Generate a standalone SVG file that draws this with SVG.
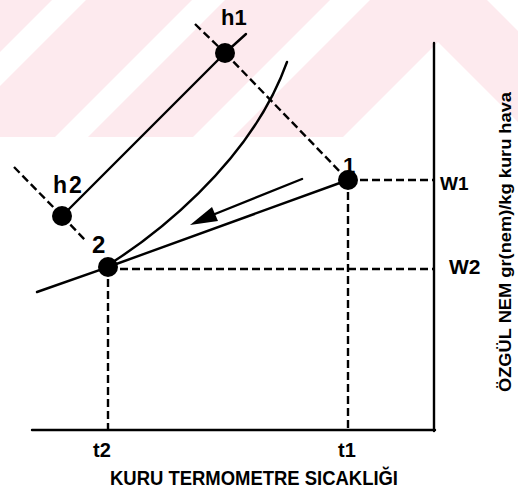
<svg xmlns="http://www.w3.org/2000/svg" width="518" height="495" viewBox="0 0 518 495">
<defs>
<style>
.wm{fill:#fdeaee;stroke:none}
.ln{fill:none;stroke:#000;stroke-width:2.4;stroke-linecap:round}
.ds{fill:none;stroke:#000;stroke-width:2.4;stroke-dasharray:8,4}
.dot{fill:#000}
.lb{font-family:"Liberation Sans",Arial,sans-serif;font-weight:bold;fill:#000}
</style>
</defs>
<rect width="518" height="495" fill="#fff"/>
<g id="watermark">
<polygon class="wm" points="0,0 52,0 0,52"/>
<polygon class="wm" points="86,0 192,0 55,137 0,137 0,86"/>
<polygon class="wm" points="225,0 330,0 193,137 88,137"/>
<polygon class="wm" points="370,0 487,0 518,31 518,122 438,42 343,137 233,137"/>
</g>
<g id="axes">
<line class="ln" x1="32" y1="430" x2="435" y2="430"/>
<line class="ln" x1="434" y1="43" x2="434" y2="431"/>
</g>
<g id="connectors">
<line class="ln" x1="225" y1="53" x2="62" y2="216"/>
<line class="ln" x1="225" y1="53" x2="246" y2="34"/>
<line class="ds" x1="195" y1="24" x2="225" y2="53"/>
<line class="ds" x1="225" y1="53" x2="348" y2="180"/>
<line class="ds" x1="14" y1="167" x2="62" y2="216"/>
<line class="ds" x1="62" y1="216" x2="86" y2="241"/>
<path class="ln" d="M37,292 L100,270 C150,240 250,165 287,62"/>
<line class="ln" x1="348" y1="180" x2="108" y2="267"/>
<line class="ln" x1="302" y1="179" x2="210" y2="216"/>
<polygon class="dot" points="190,225 212,207 218,221"/>
<line class="ds" x1="348" y1="180" x2="434" y2="180"/>
<line class="ds" x1="108" y1="269" x2="434" y2="269"/>
<line class="ds" x1="348" y1="180" x2="348" y2="430"/>
<line class="ds" x1="108" y1="267" x2="108" y2="430"/>
</g>
<g id="h1"><circle class="dot" cx="225" cy="53" r="10"/><text class="lb" x="221" y="25" font-size="22">h1</text></g>
<g id="h2"><circle class="dot" cx="62" cy="216" r="10"/><text class="lb" x="53" y="193" font-size="23" letter-spacing="2">h2</text></g>
<g id="p1"><circle class="dot" cx="348" cy="180" r="10"/><text class="lb" x="343" y="173" font-size="22">1</text></g>
<g id="p2"><circle class="dot" cx="108" cy="267" r="10"/><text class="lb" x="92" y="253" font-size="24">2</text></g>
<g id="labels">
<text class="lb" x="440" y="190" font-size="19">W1</text>
<text class="lb" x="449" y="274" font-size="21">W2</text>
<text class="lb" x="93" y="457" font-size="20">t2</text>
<text class="lb" x="338" y="457" font-size="20">t1</text>
<text class="lb" x="110" y="485" font-size="20" textLength="288" lengthAdjust="spacingAndGlyphs">KURU TERMOMETRE SICAKLIĞI</text>
<text class="lb" transform="translate(511,242) rotate(-90)" text-anchor="middle" font-size="16" textLength="300" lengthAdjust="spacingAndGlyphs">ÖZGÜL NEM gr(nem)/kg kuru hava</text>
</g>
</svg>
